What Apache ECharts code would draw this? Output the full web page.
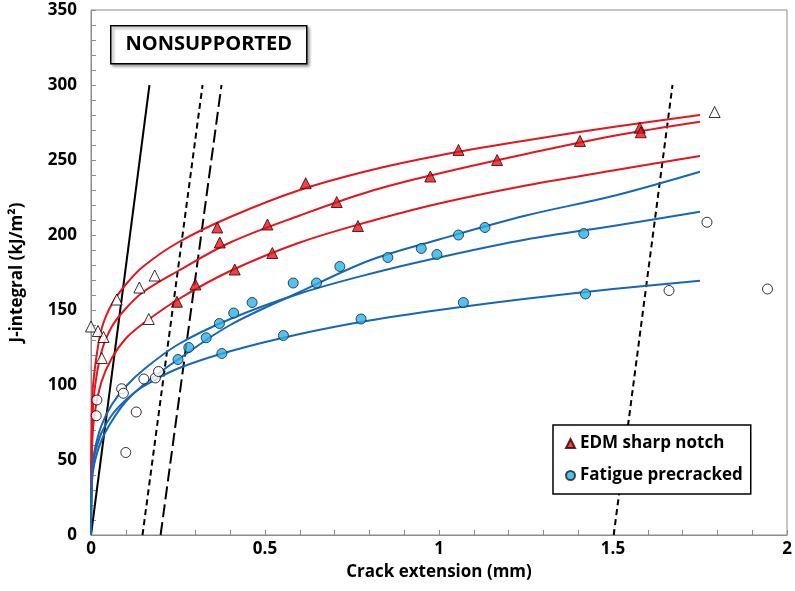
<!DOCTYPE html>
<html>
<head>
<meta charset="utf-8">
<script src="https://cdn.jsdelivr.net/npm/echarts@6/dist/echarts.min.js"></script>
<style>html,body{margin:0;padding:0;background:#fff}#c{width:795px;height:591px}</style>
</head>
<body>
<div id="c"></div>
<script>
// ---- data ----
const xTicks = [0, 0.5, 1, 1.5, 2];
const yTicks = [0, 50, 100, 150, 200, 250, 300, 350];

// fitted curves
const curveX    = [0, 0.003, 0.01, 0.03, 0.06, 0.1, 0.15, 0.25, 0.4, 0.6, 0.8, 1.0, 1.25, 1.5, 1.75];
const redFit1   = [0, 88, 109, 137, 154, 167, 179, 195, 212, 230, 243, 253, 263, 272, 280];
const redFit2   = [0, 70, 96, 122, 139, 151, 162, 176, 195, 213, 229, 241, 254, 266, 275.5];
const redFit3   = [0, 58, 80, 102, 118, 131, 141, 157, 176, 195, 209, 221, 233, 243, 252.7];
const blueFit1  = [0, 42, 56, 73, 87, 99, 110, 127, 144, 161, 174, 185, 197, 206, 215.5];
const blueFit2  = [0, 36, 48, 63, 76, 89, 100, 117, 140, 162, 183, 197, 213, 226, 242.2];
const blueFit3  = [0, 40, 53, 68, 80, 90, 99, 111, 122.5, 134, 143, 150, 157.5, 164, 169.5];

// construction lines (blunting line and offsets)
const bluntX = [0, 0.168];       const bluntY = [0, 300];
const offset1X = [0.148, 0.3206]; const offset1Y = [0, 300];
const offset2X = [0.2, 0.375];    const offset2Y = [0, 300];
const offset3X = [1.502, 1.671];  const offset3Y = [0, 300];

// EDM sharp notch (valid, filled triangles)
const edmX = [0.247, 0.300, 0.363, 0.370, 0.413, 0.507, 0.521, 0.617, 0.706, 0.767, 0.975, 1.056, 1.167, 1.405, 1.577, 1.580];
const edmY = [155.5, 167, 205, 195, 177, 207, 188, 234.5, 222, 206, 239, 256.7, 250, 262.7, 271.5, 268.5];
// EDM excluded (open triangles)
const edmOpenX = [0.0, 0.02, 0.036, 0.031, 0.074, 0.139, 0.183, 0.166, 1.792];
const edmOpenY = [139, 136, 132, 118, 157, 165, 173, 144, 282];

// Fatigue precracked (valid, filled circles)
const fatX = [0.250, 0.281, 0.331, 0.369, 0.376, 0.410, 0.463, 0.553, 0.581, 0.648, 0.715, 0.776, 0.853, 0.949, 0.994, 1.056, 1.070, 1.132, 1.416, 1.421];
const fatY = [117, 125, 131.5, 141, 121, 148, 155, 133, 168, 168, 179, 144, 185, 191, 187, 200, 155, 205, 201, 160.7];
// Fatigue excluded (open circles)
const fatOpenX = [0.017, 0.015, 0.088, 0.093, 0.130, 0.100, 0.152, 0.185, 0.194, 1.661, 1.770, 1.944];
const fatOpenY = [90, 79.5, 97.5, 94.5, 82, 55, 104, 104.7, 109, 163, 208.5, 164];

// ---- chart ----
const zip = (xs, ys) => xs.map((x, i) => [x, ys[i]]);
const FONT = 'Open Sans';
const RED = '#e6141c', BLUE = '#1767b3';

function fitLine(ys, color) {
  return { type: 'line', data: zip(curveX, ys), showSymbol: false, smooth: 0.35,
    lineStyle: { color: color, width: 2 }, silent: true, z: 3 };
}
function guide(xs, ys, type) {
  return { type: 'line', data: zip(xs, ys), showSymbol: false, silent: true, z: 2,
    lineStyle: { color: '#000', width: 2, type: type } };
}

const chart = echarts.init(document.getElementById('c'), null, { renderer: 'canvas' });
chart.setOption({
  animation: false,
  backgroundColor: '#fff',
  grid: { left: 91, top: 10, right: 8, bottom: 56, show: true, borderColor: '#8c8c8c', borderWidth: 1 },
  xAxis: {
    type: 'value', min: xTicks[0], max: xTicks[xTicks.length - 1], interval: 0.5,
    name: 'Crack extension (mm)', nameLocation: 'middle', nameGap: 29,
    nameTextStyle: { fontFamily: FONT, fontWeight: 'bold', fontSize: 17, color: '#000' },
    axisLine: { lineStyle: { color: '#8c8c8c' } },
    axisTick: { show: true, inside: true, length: 5, lineStyle: { color: '#8c8c8c' } },
    minorTick: { show: true, splitNumber: 5, length: 5, lineStyle: { color: '#8c8c8c' } },
    splitLine: { show: false },
    axisLabel: { fontFamily: FONT, fontWeight: 'bold', fontSize: 17, color: '#000', margin: 6,
      formatter: v => String(v) }
  },
  yAxis: {
    type: 'value', min: yTicks[0], max: yTicks[yTicks.length - 1], interval: 50,
    name: 'J-integral (kJ/m²)', nameLocation: 'middle', nameGap: 65, nameRotate: 90,
    nameTextStyle: { fontFamily: FONT, fontWeight: 'bold', fontSize: 17, color: '#000' },
    axisLine: { lineStyle: { color: '#8c8c8c' } },
    axisTick: { show: true, inside: true, length: 5, lineStyle: { color: '#8c8c8c' } },
    minorTick: { show: true, splitNumber: 5, length: 5, lineStyle: { color: '#8c8c8c' } },
    splitLine: { show: false },
    axisLabel: { fontFamily: FONT, fontWeight: 'bold', fontSize: 17, color: '#000', margin: 14 }
  },
  legend: {
    left: 553, top: 425, orient: 'vertical', data: ['EDM sharp notch', 'Fatigue precracked'],
    backgroundColor: '#fff', borderColor: '#000', borderWidth: 1.5,
    padding: [10, 8, 10, 12], itemGap: 15, itemWidth: 9, itemHeight: 9,
    textStyle: { fontFamily: FONT, fontWeight: 'bold', fontSize: 17, color: '#000' }
  },
  graphic: [{
    type: 'group', left: 110, top: 25, children: [
      { type: 'rect', shape: { x: 0, y: 0, width: 196, height: 38 },
        style: { fill: '#fff', stroke: '#000', lineWidth: 1.5, shadowBlur: 3, shadowOffsetX: 2, shadowOffsetY: 2, shadowColor: 'rgba(0,0,0,0.4)' } },
      { type: 'text', x: 98, y: 19, style: { text: 'NONSUPPORTED', align: 'center', verticalAlign: 'middle',
        fontFamily: FONT, fontWeight: 'bold', fontSize: 20, fill: '#000' } }
    ]
  }],
  series: [
    guide(bluntX, bluntY, 'solid'),
    guide(offset1X, offset1Y, [6, 4]),
    guide(offset2X, offset2Y, [13, 5]),
    guide(offset3X, offset3Y, [6, 4]),
    fitLine(redFit1, RED), fitLine(redFit2, RED), fitLine(redFit3, RED),
    fitLine(blueFit1, BLUE), fitLine(blueFit2, BLUE), fitLine(blueFit3, BLUE),
    { name: 'EDM sharp notch', type: 'scatter', data: zip(edmX, edmY), symbol: 'triangle', symbolSize: 11, z: 5,
      itemStyle: { color: RED, borderColor: '#300', borderWidth: 1 } },
    { name: 'EDM excluded', type: 'scatter', data: zip(edmOpenX, edmOpenY), symbol: 'triangle', symbolSize: 11, z: 5,
      itemStyle: { color: '#fff', borderColor: '#000', borderWidth: 1 } },
    { name: 'Fatigue precracked', type: 'scatter', data: zip(fatX, fatY), symbol: 'circle', symbolSize: 10, z: 5,
      itemStyle: { color: '#2bb3e6', borderColor: '#102030', borderWidth: 1 } },
    { name: 'Fatigue excluded', type: 'scatter', data: zip(fatOpenX, fatOpenY), symbol: 'circle', symbolSize: 10, z: 5,
      itemStyle: { color: '#fff', borderColor: '#000', borderWidth: 1 } }
  ]
});
</script>
</body>
</html>
